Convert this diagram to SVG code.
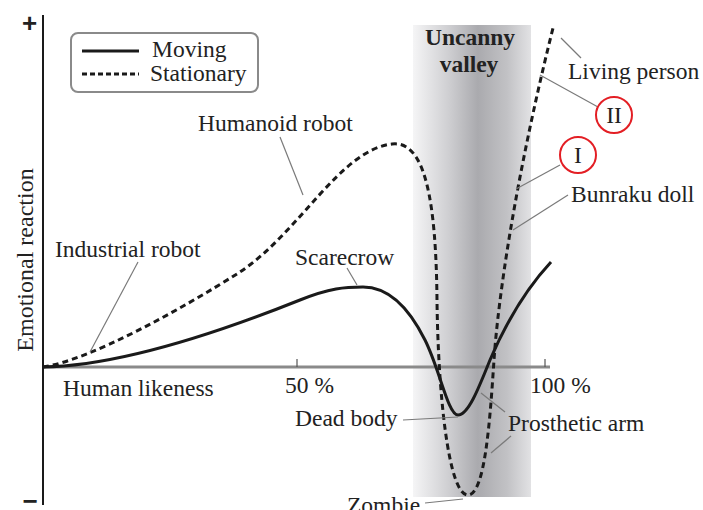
<svg xmlns="http://www.w3.org/2000/svg" width="703" height="510" viewBox="0 0 703 510">
<defs>
<linearGradient id="valley" x1="0" y1="0" x2="1" y2="0">
<stop offset="0" stop-color="#f5f5f6"/>
<stop offset="0.3" stop-color="#cfcfd2"/>
<stop offset="0.55" stop-color="#aaaaae"/>
<stop offset="0.8" stop-color="#c2c2c5"/>
<stop offset="1" stop-color="#e2e2e4"/>
</linearGradient>
</defs>
<style>
text{font-family:"Liberation Serif","Times New Roman",serif;font-size:23.5px;fill:#222}
.b{font-weight:bold}
.s{font-family:"Liberation Sans",Arial,sans-serif;font-weight:bold;font-size:26px}
.lead{stroke:#7a7a7a;stroke-width:1.2;fill:none}
.mov{stroke:#1a1a1a;stroke-width:3;fill:none}
.sta{stroke:#1a1a1a;stroke-width:3;fill:none;stroke-dasharray:6 4}
.circ{stroke:#e31e24;stroke-width:2;fill:#fff}
</style>
<rect id="valley-band" x="413" y="25" width="118" height="472" fill="url(#valley)"/>
<g id="axes">
<line x1="43" y1="367" x2="550" y2="367" stroke="#8a8a8a" stroke-width="3"/>
<line x1="297" y1="359" x2="297" y2="367" stroke="#555" stroke-width="1.2"/>
<line x1="545" y1="359" x2="545" y2="367" stroke="#555" stroke-width="1.2"/>
<line x1="43" y1="15" x2="43" y2="505" stroke="#1a1a1a" stroke-width="2"/>
<text class="s" x="29.5" y="32" text-anchor="middle">+</text>
<text class="s" x="30" y="510" text-anchor="middle">−</text>
<text x="0" y="0" transform="translate(33,260) rotate(-90)" text-anchor="middle" style="font-size:24px">Emotional reaction</text>
<text x="63" y="396">Human likeness</text>
<text x="285" y="393">50 %</text>
<text x="530" y="393">100 %</text>
</g>
<g id="legend">
<rect x="71" y="33" width="187" height="59" rx="7" fill="#fff" stroke="#8a8a8a" stroke-width="2"/>
<line class="mov" x1="82" y1="51" x2="139" y2="51"/>
<line class="sta" x1="82" y1="74" x2="139" y2="74" style="stroke-dasharray:5 3"/>
<text x="152" y="57">Moving</text>
<text x="150" y="81">Stationary</text>
</g>
<g id="valley-label">
<text class="b" x="470" y="45" text-anchor="middle">Uncanny</text>
<text class="b" x="469" y="72" text-anchor="middle">valley</text>
</g>
<g id="curves">
<path id="moving" class="mov" d="M43,367 C120,366 220,332 300,300 C330,288 345,287 363,287 C390,287 410,310 425,340 C440,370 448,415 458,415 C468,415 478,390 490,360 C505,325 525,290 551,262"/>
<path id="stationary" class="sta" d="M43,367 C90,360 180,310 240,272 C300,232 340,150 392,144 C425,140 436,200 437,300 C438,390 448,495 468,495 C485,495 490,420 494,360 C498,300 515,180 553,28"/>
</g>
<g id="connectors">
<line class="lead" x1="561" y1="38" x2="581" y2="58"/>
<line class="lead" x1="540" y1="75" x2="598" y2="107"/>
<line class="lead" x1="560" y1="165" x2="516" y2="189"/>
<line class="lead" x1="568" y1="195" x2="513" y2="230"/>
<line class="lead" x1="280" y1="137" x2="303" y2="195"/>
<line class="lead" x1="138" y1="262" x2="90" y2="352"/>
<line class="lead" x1="347" y1="268" x2="357" y2="285"/>
<line class="lead" x1="403" y1="420" x2="458" y2="417"/>
<line class="lead" x1="505" y1="412" x2="481" y2="393"/>
<line class="lead" x1="511" y1="436" x2="491" y2="453"/>
<line class="lead" x1="425" y1="503" x2="463" y2="499"/>
</g>
<g id="node-living"><text x="568" y="79">Living person</text></g>
<g id="node-II"><circle class="circ" cx="614" cy="115" r="18"/><text x="614" y="123" text-anchor="middle">II</text></g>
<g id="node-I"><circle class="circ" cx="578" cy="155" r="18"/><text x="578" y="163" text-anchor="middle">I</text></g>
<g id="node-humanoid"><text x="198" y="131">Humanoid robot</text></g>
<g id="node-bunraku"><text x="571" y="202">Bunraku doll</text></g>
<g id="node-industrial"><text x="55" y="257">Industrial robot</text></g>
<g id="node-scarecrow"><text x="295" y="265">Scarecrow</text></g>
<g id="node-dead"><text x="295" y="426">Dead body</text></g>
<g id="node-prosthetic"><text x="508" y="431">Prosthetic arm</text></g>
<g id="node-zombie"><text x="347" y="513">Zombie</text></g>
</svg>
